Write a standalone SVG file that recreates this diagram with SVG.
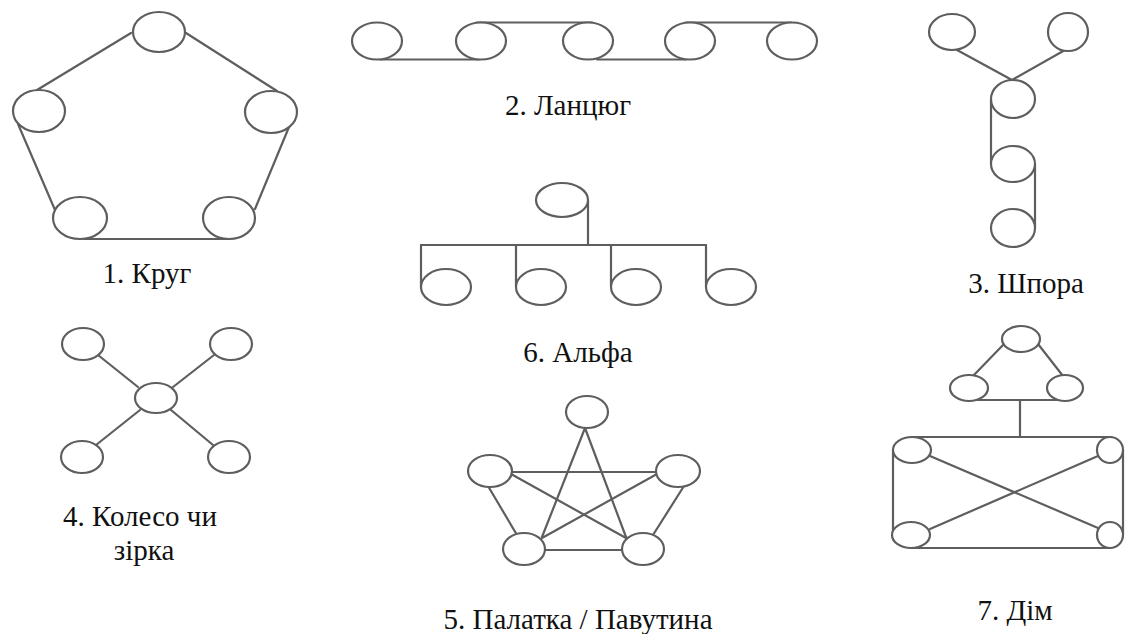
<svg xmlns="http://www.w3.org/2000/svg" width="1125" height="634" viewBox="0 0 1125 634">
  <style>
    .edge { stroke: #5e5e5e; stroke-width: 2.2; fill: none; stroke-linecap: round; }
    .node ellipse { stroke: #5e5e5e; stroke-width: 2.2; fill: #ffffff; }
    .label { font-family: "Liberation Serif", "Times New Roman", serif; font-size: 29px; fill: #111111; text-anchor: middle; }
  </style>
  <rect width="1125" height="634" fill="#ffffff"/>

  <!-- connectors for all seven networks -->
  <g id="connectors" class="edge">
    <!-- 1. circle -->
    <line x1="131" y1="33" x2="37" y2="90"/>
    <line x1="186" y1="33" x2="277" y2="91"/>
    <line x1="18" y1="124" x2="55" y2="210"/>
    <line x1="289" y1="127" x2="255" y2="209"/>
    <line x1="84" y1="239" x2="228" y2="239"/>
    <!-- 2. chain -->
    <line x1="380" y1="59.5" x2="479" y2="59.5"/>
    <line x1="477" y1="22.5" x2="592" y2="22.5"/>
    <line x1="597" y1="59.5" x2="686" y2="59.5"/>
    <line x1="686" y1="22.5" x2="791" y2="22.5"/>
    <!-- 3. spur -->
    <line x1="957" y1="50" x2="1012" y2="80"/>
    <line x1="1065" y1="50" x2="1012" y2="80"/>
    <line x1="991" y1="100" x2="991" y2="164"/>
    <line x1="1035" y1="164" x2="1035" y2="228"/>
    <!-- 4. wheel / star -->
    <line x1="98" y1="355" x2="138" y2="387"/>
    <line x1="214" y1="355" x2="173" y2="387"/>
    <line x1="96" y1="445" x2="140" y2="410"/>
    <line x1="213" y1="445" x2="171" y2="410"/>
    <!-- 6. alpha -->
    <line x1="588" y1="200" x2="588" y2="245"/>
    <line x1="421" y1="245" x2="706" y2="245"/>
    <line x1="421" y1="245" x2="421" y2="287"/>
    <line x1="516" y1="245" x2="516" y2="287"/>
    <line x1="611" y1="245" x2="611" y2="287"/>
    <line x1="706" y1="245" x2="706" y2="287"/>
    <!-- 5. tent / web -->
    <line x1="512" y1="472" x2="657" y2="472"/>
    <line x1="545" y1="550" x2="622" y2="550"/>
    <line x1="585" y1="428" x2="542" y2="537"/>
    <line x1="585" y1="428" x2="626" y2="537"/>
    <line x1="511" y1="474" x2="626" y2="538"/>
    <line x1="657" y1="474" x2="542" y2="538"/>
    <line x1="488" y1="486" x2="517" y2="535"/>
    <line x1="684" y1="486" x2="653" y2="535"/>
    <!-- 7. house -->
    <line x1="1004" y1="344" x2="973" y2="376"/>
    <line x1="1038" y1="344" x2="1063" y2="376"/>
    <line x1="975" y1="400" x2="1067" y2="400"/>
    <line x1="1020" y1="400" x2="1020" y2="437"/>
    <line x1="912" y1="437" x2="1111" y2="437"/>
    <line x1="893" y1="450" x2="893" y2="535"/>
    <line x1="911" y1="548" x2="1110" y2="548"/>
    <line x1="1123" y1="450" x2="1123" y2="535"/>
    <line x1="930" y1="456" x2="1098" y2="528"/>
    <line x1="930" y1="529" x2="1098" y2="456"/>
  </g>

  <!-- 1. Круг -->
  <g id="circle-net">
    <g id="c1" class="node"><ellipse cx="159" cy="32" rx="26" ry="20"/></g>
    <g id="c2" class="node"><ellipse cx="39" cy="111" rx="26" ry="21"/></g>
    <g id="c3" class="node"><ellipse cx="271" cy="112" rx="26" ry="21"/></g>
    <g id="c4" class="node"><ellipse cx="80" cy="218" rx="27" ry="21"/></g>
    <g id="c5" class="node"><ellipse cx="229" cy="218" rx="26" ry="21"/></g>
    <text class="label" x="147" y="283">1. Круг</text>
  </g>

  <!-- 2. Ланцюг -->
  <g id="chain-net">
    <g id="ch1" class="node"><ellipse cx="377" cy="41" rx="25" ry="18.5"/></g>
    <g id="ch2" class="node"><ellipse cx="481" cy="41" rx="25" ry="18.5"/></g>
    <g id="ch3" class="node"><ellipse cx="588" cy="41" rx="25" ry="18.5"/></g>
    <g id="ch4" class="node"><ellipse cx="690" cy="41" rx="25" ry="18.5"/></g>
    <g id="ch5" class="node"><ellipse cx="792" cy="41" rx="25" ry="18.5"/></g>
    <text class="label" x="568" y="115">2. Ланцюг</text>
  </g>

  <!-- 3. Шпора -->
  <g id="spur-net">
    <g id="s1" class="node"><ellipse cx="952" cy="32" rx="23" ry="18"/></g>
    <g id="s2" class="node"><ellipse cx="1068" cy="32" rx="20" ry="19"/></g>
    <g id="s3" class="node"><ellipse cx="1013" cy="99" rx="22" ry="19"/></g>
    <g id="s4" class="node"><ellipse cx="1013" cy="164" rx="22" ry="18"/></g>
    <g id="s5" class="node"><ellipse cx="1013" cy="228" rx="22" ry="19"/></g>
    <text class="label" x="1026" y="293">3. Шпора</text>
  </g>

  <!-- 4. Колесо чи зірка -->
  <g id="wheel-net">
    <g id="w1" class="node"><ellipse cx="83" cy="344" rx="21" ry="16"/></g>
    <g id="w2" class="node"><ellipse cx="231" cy="344" rx="21" ry="16"/></g>
    <g id="w3" class="node"><ellipse cx="156" cy="398" rx="21" ry="15"/></g>
    <g id="w4" class="node"><ellipse cx="82" cy="457" rx="21" ry="16"/></g>
    <g id="w5" class="node"><ellipse cx="229" cy="457" rx="21" ry="16"/></g>
    <text class="label" x="140" y="526">4. Колесо чи</text>
    <text class="label" x="144" y="560">зірка</text>
  </g>

  <!-- 6. Альфа -->
  <g id="alpha-net">
    <g id="a1" class="node"><ellipse cx="562" cy="200" rx="26" ry="17"/></g>
    <g id="a2" class="node"><ellipse cx="446" cy="287" rx="25" ry="18"/></g>
    <g id="a3" class="node"><ellipse cx="541" cy="287" rx="25" ry="18"/></g>
    <g id="a4" class="node"><ellipse cx="636" cy="287" rx="25" ry="18"/></g>
    <g id="a5" class="node"><ellipse cx="731" cy="287" rx="25" ry="18"/></g>
    <text class="label" x="578" y="362">6. Альфа</text>
  </g>

  <!-- 5. Палатка / Павутина -->
  <g id="web-net">
    <g id="p1" class="node"><ellipse cx="587" cy="412" rx="21" ry="16"/></g>
    <g id="p2" class="node"><ellipse cx="490" cy="471" rx="22" ry="16"/></g>
    <g id="p3" class="node"><ellipse cx="678" cy="471" rx="22" ry="16"/></g>
    <g id="p4" class="node"><ellipse cx="524" cy="549" rx="21" ry="16"/></g>
    <g id="p5" class="node"><ellipse cx="643" cy="549" rx="21" ry="16"/></g>
    <text class="label" x="578" y="629">5. Палатка / Павутина</text>
  </g>

  <!-- 7. Дім -->
  <g id="house-net">
    <g id="h1" class="node"><ellipse cx="1021" cy="339" rx="19" ry="13"/></g>
    <g id="h2" class="node"><ellipse cx="969" cy="388" rx="19" ry="13"/></g>
    <g id="h3" class="node"><ellipse cx="1065" cy="388" rx="18" ry="13"/></g>
    <g id="h4" class="node"><ellipse cx="912" cy="450" rx="19" ry="13"/></g>
    <g id="h5" class="node"><ellipse cx="1110" cy="450" rx="13" ry="13"/></g>
    <g id="h6" class="node"><ellipse cx="911" cy="535" rx="19" ry="13"/></g>
    <g id="h7" class="node"><ellipse cx="1110" cy="535" rx="13" ry="13"/></g>
    <text class="label" x="1015" y="620">7. Дім</text>
  </g>
</svg>
